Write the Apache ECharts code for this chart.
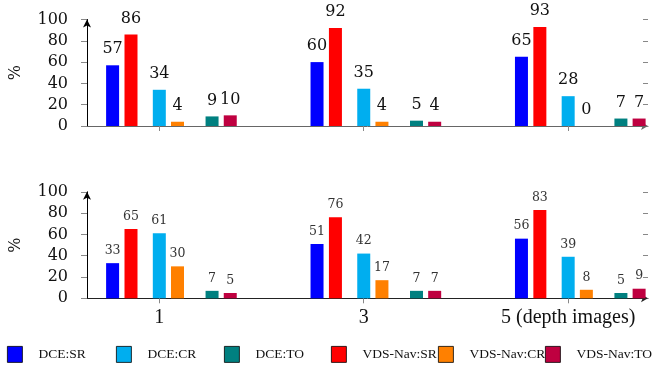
<!DOCTYPE html>
<html>
<head>
<meta charset="utf-8">
<script src="https://cdn.jsdelivr.net/npm/echarts@6/dist/echarts.min.js"></script>
<style>
  html, body { margin: 0; padding: 0; background: #fff; }
  #chart { width: 657px; height: 366px; }
</style>
</head>
<body>
<div id="chart"></div>
<script>
// Group positions on the x scale and their labels
const groupX = [1, 3, 5];
const tickLabels = ['1', '3', '5 (depth images)'];
const yTicks = [0, 20, 40, 60, 80, 100];

// Series names (legend order)
const seriesNames = ['DCE:SR', 'DCE:CR', 'DCE:TO', 'VDS-Nav:SR', 'VDS-Nav:CR', 'VDS-Nav:TO'];

// Upper panel values (%)
const topDceSR = [57, 60, 65];
const topDceCR = [34, 35, 28];
const topDceTO = [9, 5, 7];
const topVdsSR = [86, 92, 93];
const topVdsCR = [4, 4, 0];
const topVdsTO = [10, 4, 7];

// Lower panel values (%)
const botDceSR = [33, 51, 56];
const botDceCR = [61, 42, 39];
const botDceTO = [7, 7, 5];
const botVdsSR = [65, 76, 83];
const botVdsCR = [30, 17, 8];
const botVdsTO = [5, 7, 9];

// Styling per series: colour and bar shift (x units) inside a group
const seriesStyle = {
  'DCE:SR':     { color: '#0000ff', shift: -0.457 },
  'VDS-Nav:SR': { color: '#ff0000', shift: -0.277 },
  'DCE:CR':     { color: '#00aeef', shift: 0 },
  'VDS-Nav:CR': { color: '#ff8000', shift: 0.178 },
  'DCE:TO':     { color: '#008080', shift: 0.516 },
  'VDS-Nav:TO': { color: '#bf0040', shift: 0.694 }
};

const topValues = {
  'DCE:SR': topDceSR, 'DCE:CR': topDceCR, 'DCE:TO': topDceTO,
  'VDS-Nav:SR': topVdsSR, 'VDS-Nav:CR': topVdsCR, 'VDS-Nav:TO': topVdsTO
};
const botValues = {
  'DCE:SR': botDceSR, 'DCE:CR': botDceCR, 'DCE:TO': botDceTO,
  'VDS-Nav:SR': botVdsSR, 'VDS-Nav:CR': botVdsCR, 'VDS-Nav:TO': botVdsTO
};

// Drawing order inside each group
const drawOrder = ['DCE:SR', 'VDS-Nav:SR', 'DCE:CR', 'VDS-Nav:CR', 'DCE:TO', 'VDS-Nav:TO'];

const serif = 'DejaVu Serif';
const times = 'Liberation Serif';
const xMin = 0.2925, xMax = 5.781;

function makeXAxis(gridIndex, showLabels, lineColor) {
  return {
    type: 'value', gridIndex: gridIndex, min: xMin, max: xMax,
    splitLine: { show: false },
    axisLine: { show: true, onZero: false, symbol: ['none', 'arrow'], symbolSize: [6, 7],
      lineStyle: { color: lineColor, width: 1 } },
    axisTick: { show: true, customValues: groupX, length: 5, lineStyle: { color: '#888', width: 1 } },
    axisLabel: {
      show: showLabels, customValues: groupX, margin: 9,
      fontFamily: times, fontSize: 20, color: '#111',
      formatter: function (v) { const i = groupX.indexOf(v); return i >= 0 ? tickLabels[i] : ''; }
    }
  };
}

function makeYAxes(gridIndex) {
  return [{
    type: 'value', gridIndex: gridIndex, min: 0, max: 100, interval: 20,
    name: '%', nameLocation: 'middle', nameGap: 63, nameRotate: 90,
    nameTextStyle: { fontFamily: serif, fontSize: 16, color: '#111' },
    splitLine: { show: false },
    axisLine: { show: true, symbol: ['none', 'arrow'], symbolSize: [6, 8],
      lineStyle: { color: '#000', width: 1 } },
    axisTick: { show: true, length: 6, lineStyle: { color: '#888' } },
    axisLabel: { margin: 19, fontFamily: serif, fontSize: 16, color: '#111',
      customValues: yTicks }
  }, {
    // inner half of the crossing ticks
    type: 'value', gridIndex: gridIndex, min: 0, max: 100, interval: 20,
    splitLine: { show: false },
    axisLine: { show: false },
    axisTick: { show: true, inside: true, length: 5, lineStyle: { color: '#888' } },
    axisLabel: { show: false }
  }];
}

function makeSeries(values, axisIndex, yIndex, labelSize, labelDist, labelColor) {
  return drawOrder.map(function (name) {
    const st = seriesStyle[name];
    return {
      name: name, type: 'bar', xAxisIndex: axisIndex, yAxisIndex: yIndex,
      barWidth: 13, barGap: '-100%',
      itemStyle: { color: st.color },
      label: {
        show: true, position: 'top', distance: labelDist,
        fontFamily: serif, fontSize: labelSize, color: labelColor,
        formatter: function (p) { return String(p.value[1]); }
      },
      data: groupX.map(function (g, i) { return [g + st.shift, values[name][i]]; })
    };
  });
}

// One legend block per series so the entries keep even spacing
const legendX = [7, 116, 224, 331, 438, 545];
const legends = seriesNames.map(function (name, i) {
  return {
    data: [name], left: legendX[i], top: 346, padding: 0,
    icon: 'rect', itemWidth: 15, itemHeight: 16,
    itemStyle: { borderColor: '#000', borderWidth: 0.8 },
    textStyle: { fontFamily: times, fontSize: 13.5, color: '#111', padding: [0, 0, 0, 11] },
    selectedMode: false
  };
});

const chart = echarts.init(document.getElementById('chart'), null, { renderer: 'canvas' });
const yAxesTop = makeYAxes(0);
const yAxesBot = makeYAxes(1);
chart.setOption({
  animation: false,
  backgroundColor: '#fff',
  grid: [
    { left: 84, right: 9, top: 19.5, height: 106.5 },
    { left: 84, right: 9, top: 191.8, height: 106.5 }
  ],
  xAxis: [makeXAxis(0, false, '#666'), makeXAxis(1, true, '#222')],
  yAxis: yAxesTop.concat(yAxesBot),
  legend: legends,
  series: makeSeries(topValues, 0, 0, 16, 8, '#111')
    .concat(makeSeries(botValues, 1, 2, 12.5, 6, '#333'))
});
</script>
</body>
</html>
